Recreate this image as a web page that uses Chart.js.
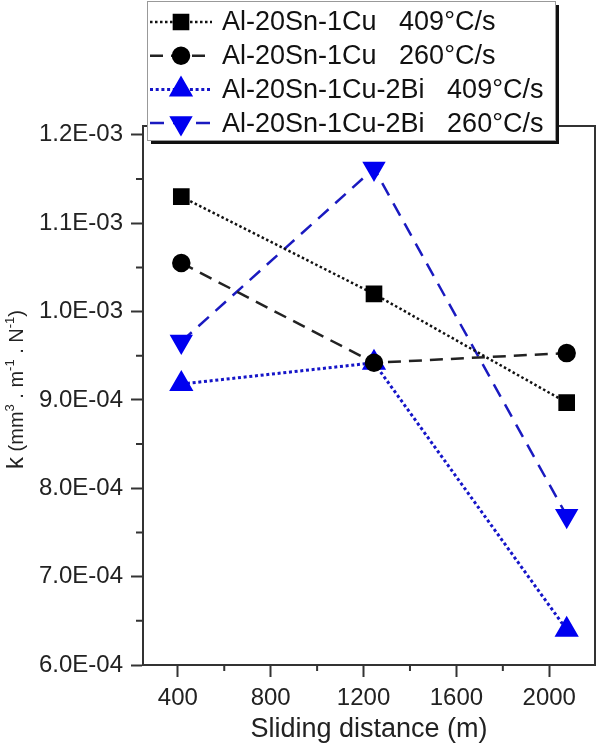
<!DOCTYPE html>
<html>
<head>
<meta charset="utf-8">
<script src="https://cdn.jsdelivr.net/npm/chart.js@4.4.1/dist/chart.umd.min.js"></script>
<style>
  html, body { margin: 0; padding: 0; background: #fff; }
</style>
</head>
<body>
<canvas id="wearChart" width="609" height="745"></canvas>
<script>
const distance = [415, 1245, 2075];
const cu409 = [1.130e-3, 1.020e-3, 8.97e-4];
const cu260 = [1.055e-3, 9.42e-4, 9.53e-4];
const bi409 = [9.18e-4, 9.42e-4, 6.40e-4];
const bi260 = [9.66e-4, 1.162e-3, 7.69e-4];
const alloyNames = ["Al-20Sn-1Cu", "Al-20Sn-1Cu", "Al-20Sn-1Cu-2Bi", "Al-20Sn-1Cu-2Bi"];
const coolingRates = ["409°C/s", "260°C/s", "409°C/s", "260°C/s"];
const xTicks = [400, 800, 1200, 1600, 2000];
const xMinor = [600, 1000, 1400, 1800];
const yTicks = [6e-4, 7e-4, 8e-4, 9e-4, 1.0e-3, 1.1e-3, 1.2e-3];
const yMinor = [6.5e-4, 7.5e-4, 8.5e-4, 9.5e-4, 1.05e-3, 1.15e-3];

const FONT = '"Liberation Sans", Arial, sans-serif';
const BLUE = "#0000f0";

function points(values) {
    return distance.map((d, i) => ({ x: d, y: values[i] }));
}

// 1.2E-03 style labels
function sci(v) {
    const parts = v.toExponential(1).split("e");
    const exp = parseInt(parts[1], 10);
    return parts[0] + "E" + (exp < 0 ? "-" : "+") + String(Math.abs(exp)).padStart(2, "0");
}

// frame on top/right plus the small minor ticks
const frameAndMinor = {
    id: "frameAndMinor",
    beforeDatasetsDraw(chart) {
        const { ctx, chartArea: a, scales } = chart;
        ctx.save();
        ctx.strokeStyle = "#333";
        ctx.lineWidth = 2;
        ctx.beginPath();
        ctx.moveTo(a.left, a.top);
        ctx.lineTo(a.right, a.top);
        ctx.lineTo(a.right, a.bottom);
        ctx.stroke();
        ctx.beginPath();
        yMinor.forEach(v => {
            const y = scales.y.getPixelForValue(v);
            ctx.moveTo(a.left - 7, y);
            ctx.lineTo(a.left, y);
        });
        xMinor.forEach(v => {
            const x = scales.x.getPixelForValue(v);
            ctx.moveTo(x, a.bottom);
            ctx.lineTo(x, a.bottom + 6);
        });
        ctx.stroke();
        ctx.restore();
    }
};

// y title with superscripts
const yTitle = {
    id: "yTitle",
    afterDraw(chart) {
        const { ctx, chartArea: a } = chart;
        const parts = [
            { t: "k", s: 24, up: 0 },
            { t: " (mm", s: 20, up: 0 },
            { t: "3", s: 13, up: 9 },
            { t: " . m", s: 20, up: 0 },
            { t: "-1", s: 13, up: 9 },
            { t: " . N", s: 20, up: 0 },
            { t: "-1", s: 13, up: 9 },
            { t: ")", s: 20, up: 0 }
        ];
        ctx.save();
        let total = 0;
        parts.forEach(p => {
            ctx.font = p.s + "px " + FONT;
            p.w = ctx.measureText(p.t).width;
            total += p.w;
        });
        ctx.translate(23, (a.top + a.bottom) / 2 - 6);
        ctx.rotate(-Math.PI / 2);
        ctx.fillStyle = "#222";
        ctx.textBaseline = "alphabetic";
        let x = -total / 2;
        parts.forEach(p => {
            ctx.font = p.s + "px " + FONT;
            ctx.fillText(p.t, x, -p.up);
            x += p.w;
        });
        ctx.restore();
    }
};

// boxed legend with drop shadow, drawn over the frame
const legendBox = {
    id: "legendBox",
    afterDraw(chart) {
        const ctx = chart.ctx;
        const x0 = 147, y0 = 1, w = 408, h = 139;
        ctx.save();
        ctx.fillStyle = "#111";
        ctx.fillRect(x0 + 4, y0 + 4, w, h);
        ctx.fillStyle = "#fff";
        ctx.fillRect(x0, y0, w, h);
        ctx.strokeStyle = "#999";
        ctx.lineWidth = 1;
        ctx.strokeRect(x0 + 0.5, y0 + 0.5, w, h);
        chart.data.datasets.forEach((ds, i) => {
            const y = 22 + i * 33.7;
            ctx.setLineDash(ds.borderDash);
            ctx.lineWidth = ds.borderWidth;
            ctx.strokeStyle = ds.borderColor;
            ctx.beginPath();
            ctx.moveTo(150, y);
            ctx.lineTo(212, y);
            ctx.stroke();
            ctx.setLineDash([]);
            ctx.fillStyle = ds.pointBackgroundColor;
            ctx.strokeStyle = ds.pointBorderColor;
            Chart.helpers.drawPoint(ctx, {
                pointStyle: ds.pointStyle,
                rotation: ds.pointRotation || 0,
                radius: ds.pointRadius,
                borderWidth: 1
            }, 181, y);
            ctx.fillStyle = "#111";
            ctx.font = "27px " + FONT;
            ctx.textBaseline = "middle";
            ctx.fillText(ds.label, 222, y + 1);
        });
        ctx.restore();
    }
};

Chart.defaults.font.family = FONT;

new Chart(document.getElementById("wearChart"), {
    type: "line",
    data: {
        datasets: [
            {
                label: alloyNames[0] + "   " + coolingRates[0],
                data: points(cu409),
                borderColor: "#111",
                borderWidth: 2.5,
                borderDash: [2.5, 2.5],
                pointStyle: "rect",
                pointRadius: 10,
                pointBackgroundColor: "#000",
                pointBorderColor: "#000"
            },
            {
                label: alloyNames[1] + "   " + coolingRates[1],
                data: points(cu260),
                borderColor: "#222",
                borderWidth: 2.5,
                borderDash: [13, 8],
                pointStyle: "circle",
                pointRadius: 8,
                pointBackgroundColor: "#000",
                pointBorderColor: "#000"
            },
            {
                label: alloyNames[2] + "   " + coolingRates[2],
                data: points(bi409),
                borderColor: "#1515c8",
                borderWidth: 3,
                borderDash: [3, 2.7],
                pointStyle: "triangle",
                pointRadius: 11,
                pointBackgroundColor: BLUE,
                pointBorderColor: BLUE
            },
            {
                label: alloyNames[3] + "   " + coolingRates[3],
                data: points(bi260),
                borderColor: "#1a1ac0",
                borderWidth: 2.5,
                borderDash: [14, 9],
                pointStyle: "triangle",
                pointRotation: 180,
                pointRadius: 11,
                pointBackgroundColor: BLUE,
                pointBorderColor: BLUE
            }
        ]
    },
    options: {
        responsive: false,
        animation: false,
        devicePixelRatio: 1,
        layout: { padding: { top: 126, right: 4, bottom: 0, left: 0 } },
        scales: {
            x: {
                type: "linear",
                min: 250,
                max: 2197,
                afterBuildTicks: s => { s.ticks = xTicks.map(v => ({ value: v })); },
                afterFit: s => { s.height = 80; },
                ticks: { font: { size: 24 }, color: "#222", padding: 7, maxRotation: 0, autoSkip: false, callback: v => String(v) },
                grid: { drawOnChartArea: false, tickLength: 12, tickWidth: 2, tickColor: "#333" },
                border: { color: "#333", width: 2 },
                title: { display: true, text: "Sliding distance (m)", color: "#222", font: { size: 27 }, padding: { top: 0, bottom: -1 } }
            },
            y: {
                min: 6e-4,
                max: 1.21e-3,
                afterBuildTicks: s => { s.ticks = yTicks.map(v => ({ value: v })); },
                afterFit: s => { s.width = 143; },
                ticks: { font: { size: 24 }, color: "#222", padding: 8, callback: v => sci(v) },
                grid: { drawOnChartArea: false, tickLength: 12, tickWidth: 2, tickColor: "#333" },
                border: { color: "#333", width: 2 }
            }
        },
        plugins: {
            legend: { display: false },
            tooltip: { enabled: false }
        }
    },
    plugins: [frameAndMinor, yTitle, legendBox]
});
</script>
</body>
</html>
